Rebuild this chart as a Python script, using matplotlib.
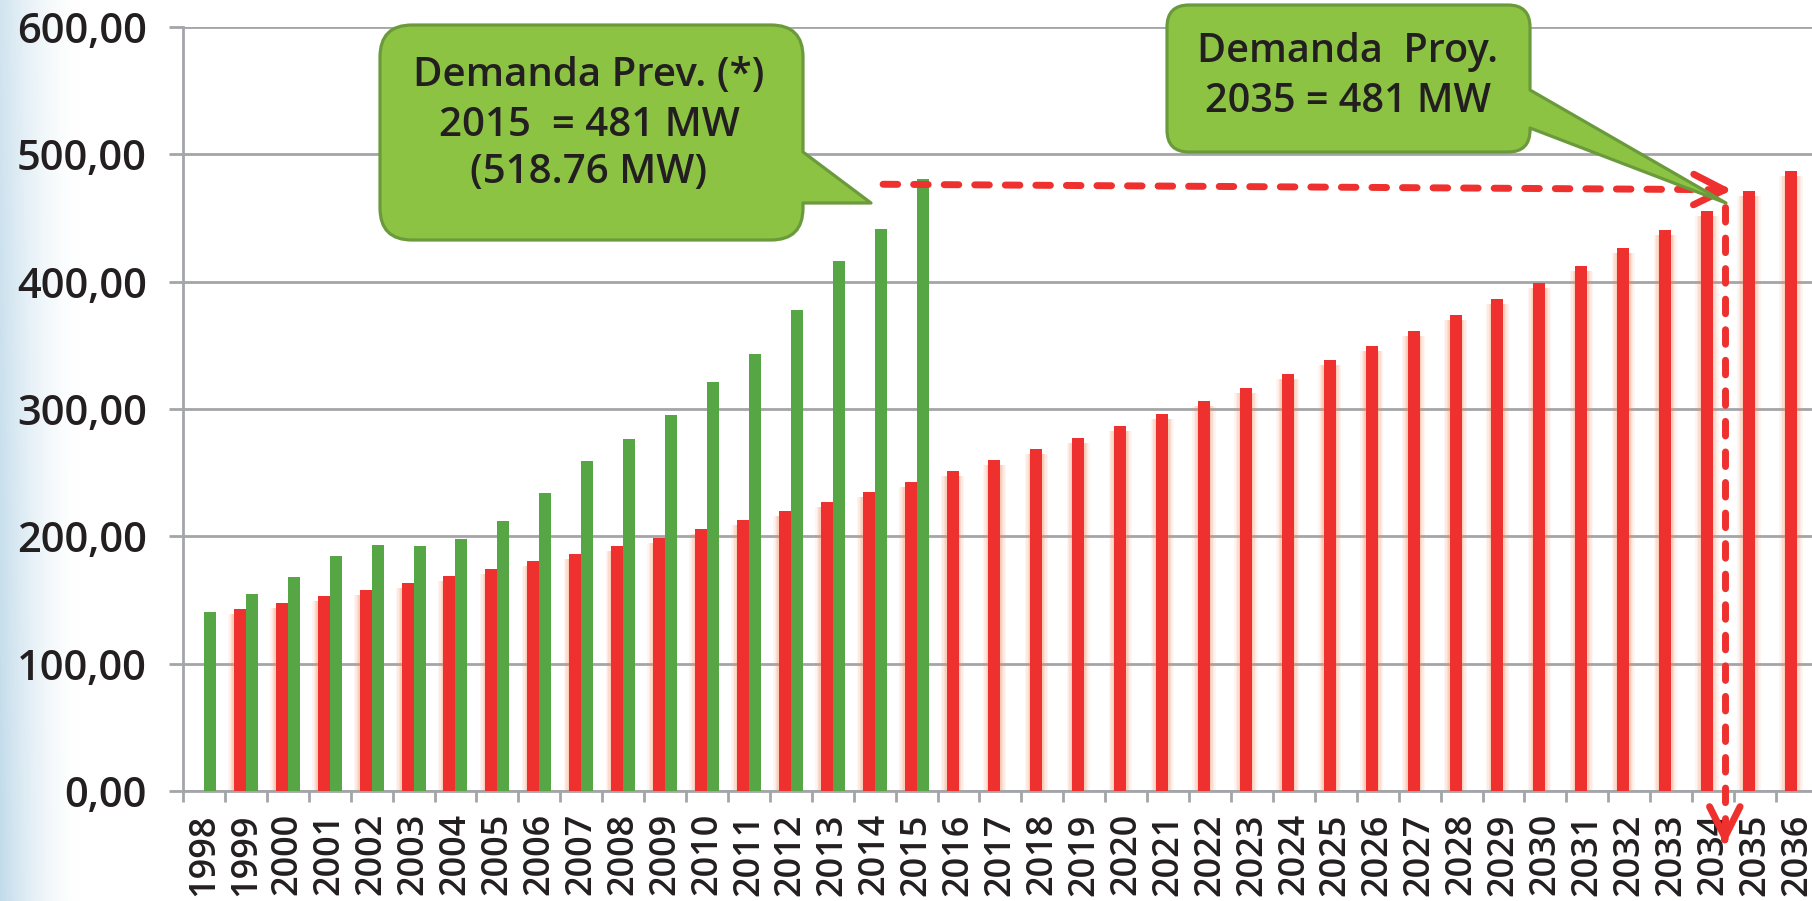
import numpy as np
import matplotlib.pyplot as plt
from matplotlib.path import Path
from matplotlib.patches import PathPatch

plt.rcParams["font.family"] = ["Open Sans", "DejaVu Sans"]

years = list(range(1998, 2037))

# demanda prevista (verde), 1998-2015
demanda_prevista = [
    140.8, 154.5, 168.0, 184.3, 193.2, 192.4, 197.9, 212.3, 233.8,
    259.4, 276.7, 295.0, 321.0, 343.0, 378.0, 416.0, 441.4, 481.0,
] + [np.nan] * 21

# demanda proyectada (rojo), 1999-2036
demanda_proyectada = [np.nan] + [
    143.0, 147.9, 152.9, 157.9, 163.1, 168.6, 174.6, 180.4, 186.4,
    192.7, 199.0, 205.8, 212.6, 219.9, 227.2, 234.8, 242.7, 251.1,
    259.7, 268.4, 277.2, 286.4, 296.3, 306.0, 316.5, 327.3, 338.2,
    349.5, 361.3, 373.6, 386.2, 399.2, 412.6, 426.5, 440.8, 455.8,
    471.2, 486.9,
]

y_ticks = [0, 100, 200, 300, 400, 500, 600]

RED = "#EE312E"
GREEN = "#56A646"
GRID = "#A3A5A8"
TEXT = "#231F20"
BUBBLE = "#8CC343"
BUBBLE_EDGE = "#6B9A3C"

W, H = 1812, 901
fig = plt.figure(figsize=(W / 100, H / 100), dpi=100, facecolor="white")

# pale blue band on the left edge
band_w = 80
fx = np.linspace(0, 1, band_w)
fade = np.clip(1 - fx, 0, 1) ** 1.6
fy = np.linspace(0, 1, H)[:, None]
tint = np.array([0.76, 0.86, 0.92])
band = np.ones((H, band_w, 4))
strength = fade[None, :] * (0.75 + 0.25 * fy)
band[..., :3] = 1 - (1 - tint)[None, None, :] * strength[..., None]
fig.figimage(band, xo=0, yo=0, zorder=-10)

cat_w = 41.92
ax = fig.add_axes([183 / W, 1 - 791 / H, 39 * cat_w / W, (791 - 27) / H])
ax.set_facecolor("none")

x = np.arange(len(years))
bw = 0.286
red = np.array(demanda_proyectada, dtype=float)
green = np.array(demanda_prevista, dtype=float)

# soft orange halo behind the red bars
for k, a in ((4, 0.08), (3, 0.10), (2, 0.13), (1, 0.18)):
    ax.bar(x - bw / 2, red - 5 / 1.273, width=bw + 2 * k * 1.4 / cat_w,
           color="#F58A5E", alpha=a, linewidth=0, zorder=2)
ax.bar(x - bw / 2, red, width=bw, color=RED, linewidth=0, zorder=3)
ax.bar(x + bw / 2, green, width=bw, color=GREEN, linewidth=0, zorder=3)

ax.set_xlim(-0.5, len(years) - 0.5)
ax.set_ylim(0, 600)
ax.set_yticks(y_ticks)
ax.set_yticklabels([f"{v:.2f}".replace(".", ",") for v in y_ticks])
ax.set_xticks(x)
ax.set_xticklabels([str(y) for y in years], rotation=90, va="top")
ax.set_xticks(np.arange(-0.5, len(years), 1), minor=True)

ax.tick_params(axis="y", length=10, width=2, color=GRID, pad=16,
               labelsize=30, labelcolor=TEXT)
ax.tick_params(axis="x", which="major", length=0, pad=16,
               labelsize=26, labelcolor=TEXT)
ax.tick_params(axis="x", which="minor", length=8, width=2, color=GRID)
for lab in ax.get_yticklabels() + ax.get_xticklabels():
    lab.set_fontweight("semibold")

for side in ("top", "right"):
    ax.spines[side].set_visible(False)
for side in ("left", "bottom"):
    ax.spines[side].set_color(GRID)
    ax.spines[side].set_linewidth(2)
ax.grid(axis="y", color=GRID, linewidth=2)
ax.set_axisbelow(True)

# dashed guide from the 2015 forecast to the projection horizon
dash = dict(color=RED, lw=5, ls=(0, (2.1, 2.3)), dash_capstyle="round",
            zorder=6, clip_on=False)
head = dict(arrowstyle="->,head_length=1.1,head_width=0.55", lw=5,
            color=RED, mutation_scale=20, shrinkA=0, shrinkB=0)
ax.plot([16.2, 36.3], [476.5, 472.2], **dash)
ax.annotate("", xy=(36.45, 472), xytext=(36.2, 472.1), arrowprops=head,
            annotation_clip=False, zorder=6)
ax.plot([36.28, 36.28], [458.7, -36], **dash)
ax.annotate("", xy=(36.28, -42.4), xytext=(36.28, -37), arrowprops=head,
            annotation_clip=False, zorder=6)

# overlay in pixel units for the speech bubbles
ov = fig.add_axes([0, 0, 1, 1], zorder=10)
ov.set_xlim(0, W)
ov.set_ylim(H, 0)
ov.axis("off")
ov.patch.set_alpha(0)


def bubble(axis, x0, y0, x1, y1, r, tail):
    ta, tip, tb = tail
    verts = [
        (x0 + r, y0), (x1 - r, y0), (x1, y0), (x1, y0 + r),
        ta, tip, tb, (x1, y1 - r), (x1, y1), (x1 - r, y1),
        (x0 + r, y1), (x0, y1), (x0, y1 - r), (x0, y0 + r), (x0, y0),
        (x0 + r, y0), (x0 + r, y0),
    ]
    codes = [
        Path.MOVETO, Path.LINETO, Path.CURVE3, Path.CURVE3,
        Path.LINETO, Path.LINETO, Path.LINETO, Path.LINETO, Path.CURVE3,
        Path.CURVE3, Path.LINETO, Path.CURVE3, Path.CURVE3, Path.LINETO,
        Path.CURVE3, Path.CURVE3, Path.CLOSEPOLY,
    ]
    axis.add_patch(PathPatch(Path(verts, codes), facecolor=BUBBLE,
                             edgecolor=BUBBLE_EDGE, lw=2.3, joinstyle="round"))


bubble(ov, 380, 25, 803, 240, 32, ((803, 152), (871, 203), (803, 203)))
for text, yb in (("Demanda Prev. (*)", 86), ("2015  = 481 MW", 136),
                 ("(518.76 MW)", 183)):
    ov.text(589, yb, text, ha="center", va="baseline", fontsize=29,
            fontweight="semibold", color=TEXT)

bubble(ov, 1167, 5, 1530, 152, 22, ((1530, 90), (1726, 203), (1530, 128)))
for text, yb in (("Demanda  Proy.", 62), ("2035 = 481 MW", 112)):
    ov.text(1348, yb, text, ha="center", va="baseline", fontsize=28.5,
            fontweight="semibold", color=TEXT)

fig.savefig("out.png", dpi=100, facecolor="white")
